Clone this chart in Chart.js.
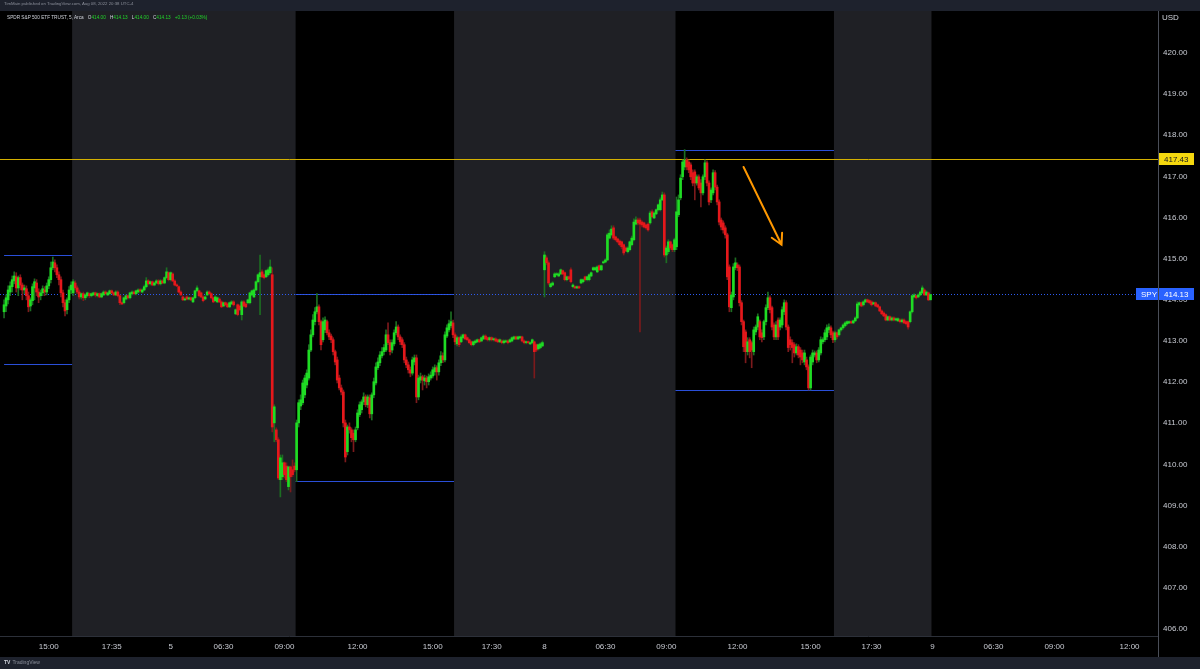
<!DOCTYPE html>
<html>
<head>
<meta charset="utf-8">
<script src="https://cdn.jsdelivr.net/npm/chart.js@4.4.1/dist/chart.umd.min.js"></script>
<style>
  html, body { margin: 0; padding: 0; background: #1e222d; }
  #wrap { position: relative; width: 1200px; height: 669px; overflow: hidden; }
  #chart { position: absolute; left: 0; top: 0; }
  .tiny { position: absolute; white-space: nowrap; font-family: 'Liberation Sans', Arial, sans-serif; font-size: 10px; transform-origin: 0 0; }
  #hdr { left: 4px; top: 1px; color: #8c909b; transform: scale(0.43); }
  #lgd { left: 7px; top: 15px; color: #d1d4dc; transform: scale(0.47); }
  #lgd .k { color: #d1d4dc; margin-left: 6px; }
  #lgd .v { color: #22d32a; }
  #foot { left: 4px; top: 659px; color: #8c909b; transform: scale(0.5); }
  #foot b { color: #d1d4dc; margin-right: 4px; }
</style>
</head>
<body>
<div id="wrap">
  <canvas id="chart" width="1200" height="669"></canvas>
  <div id="hdr" class="tiny">TimMain published on TradingView.com, Aug 08, 2022 20:38 UTC-4</div>
  <div id="lgd" class="tiny">SPDR S&amp;P 500 ETF TRUST, 5, Arca <span class="k">O</span><span class="v">414.00</span> <span class="k">H</span><span class="v">414.13</span> <span class="k">L</span><span class="v">414.00</span> <span class="k">C</span><span class="v">414.13</span> <span class="v" style="margin-left:6px">+0.13 (+0.03%)</span></div>
  <div id="foot" class="tiny"><b>TV</b>TradingView</div>
</div>
<script>
// ===== Data (5 min bars, [open, high, low, close]) =====
const aug4Rth = [
  [413.71,414.00,413.56,413.88],[413.85,414.12,413.71,414.05],[414.00,414.34,413.90,414.24],[414.19,414.44,414.10,414.34],
  [414.32,414.58,414.19,414.49],[414.46,414.68,414.39,414.58],[414.56,414.66,414.19,414.29],[414.29,414.58,414.10,414.54],
  [414.54,414.61,414.24,414.36],[414.36,414.41,414.00,414.24],[414.24,414.36,414.15,414.29],[414.27,414.34,414.00,414.10],
  [414.10,414.19,413.71,413.83],[413.85,414.05,413.73,414.00],[413.98,414.39,413.88,414.32],[414.29,414.51,414.00,414.44],
  [414.41,414.49,414.10,414.19],[414.19,414.27,413.93,414.07],[414.10,414.24,414.00,414.17],[414.17,414.34,414.10,414.27],
  [414.24,414.32,414.10,414.19],[414.19,414.41,414.12,414.34],[414.34,414.56,414.27,414.49],[414.49,414.92,414.41,414.78],
  [414.78,415.04,414.73,414.92],[414.90,414.97,414.68,414.78],[414.78,414.85,414.54,414.61],[414.61,414.68,414.36,414.49],
  [414.49,414.56,414.07,414.17],[414.17,414.24,413.83,413.93],[413.93,414.00,413.61,413.73],[413.76,414.05,413.66,414.00],
  [414.00,414.32,413.93,414.24],[414.24,414.44,414.15,414.36],
];
const aug5Pre = [
  [414.17,414.49,414.10,414.44],[414.41,414.46,414.24,414.29],[414.29,414.34,414.15,414.19],[414.19,414.24,414.02,414.07],
  [414.07,414.17,414.02,414.15],[414.15,414.19,413.98,414.05],[414.05,414.15,414.00,414.12],[414.10,414.19,414.07,414.17],
  [414.15,414.17,414.05,414.10],[414.10,414.17,414.07,414.15],[414.12,414.19,414.10,414.17],[414.17,414.19,414.07,414.12],
  [414.10,414.17,414.07,414.15],[414.15,414.17,414.05,414.07],[414.07,414.17,414.05,414.15],[414.12,414.22,414.10,414.19],
  [414.19,414.22,414.12,414.15],[414.12,414.19,414.10,414.17],[414.15,414.24,414.12,414.22],[414.22,414.24,414.15,414.17],
  [414.17,414.19,414.10,414.12],[414.12,414.22,414.10,414.19],[414.19,414.22,414.07,414.10],[414.10,414.12,413.88,413.93],
  [413.93,413.95,413.88,413.90],[413.93,414.07,413.90,414.05],[414.02,414.12,414.00,414.10],[414.10,414.12,414.02,414.05],
  [414.05,414.19,414.02,414.17],[414.15,414.22,414.12,414.19],[414.19,414.22,414.12,414.15],[414.15,414.24,414.12,414.22],
  [414.19,414.27,414.17,414.24],[414.24,414.27,414.19,414.22],[414.19,414.27,414.17,414.24],[414.24,414.36,414.22,414.32],
  [414.32,414.54,414.29,414.46],[414.46,414.49,414.36,414.39],[414.39,414.46,414.36,414.44],[414.44,414.46,414.34,414.36],
  [414.36,414.44,414.34,414.41],[414.41,414.49,414.39,414.46],[414.46,414.49,414.36,414.39],[414.39,414.49,414.36,414.46],
  [414.46,414.49,414.39,414.41],[414.41,414.56,414.39,414.54],[414.54,414.78,414.51,414.68],[414.66,414.68,414.46,414.49],
  [414.49,414.68,414.46,414.66],[414.63,414.66,414.44,414.46],[414.46,414.49,414.34,414.36],[414.36,414.39,414.32,414.34],
  [414.32,414.34,414.17,414.19],[414.19,414.22,414.10,414.12],[414.07,414.10,413.98,414.00],[414.00,414.05,413.98,414.02],
  [414.07,414.10,414.00,414.02],[414.02,414.07,414.00,414.05],[414.05,414.07,413.98,414.00],[413.95,414.07,413.93,414.05],
  [414.05,414.24,414.02,414.22],[414.22,414.34,414.19,414.29],[414.22,414.24,414.07,414.10],[414.17,414.19,414.05,414.07],
  [414.07,414.10,413.95,413.98],[414.02,414.10,414.00,414.07],[414.12,414.22,414.10,414.19],[414.19,414.22,414.12,414.15],
  [414.15,414.17,414.02,414.05],[414.05,414.07,413.93,413.95],[413.98,414.10,413.95,414.07],[413.95,414.07,413.93,414.05],
  [414.02,414.05,413.93,413.95],[413.95,413.98,413.81,413.83],[413.85,413.95,413.83,413.93],[413.93,413.95,413.85,413.88],
  [413.90,413.93,413.81,413.83],[413.83,413.95,413.81,413.93],[413.90,413.98,413.88,413.95],[413.95,413.98,413.85,413.88],
  [413.66,413.78,413.64,413.76],[413.88,413.90,413.61,413.64],[413.85,413.88,413.73,413.76],[413.64,413.98,413.51,413.95],
  [413.95,413.98,413.83,413.85],[413.90,413.93,413.81,413.83],[413.93,414.02,413.90,414.00],[413.93,414.19,413.90,414.17],
  [414.12,414.24,414.10,414.22],[414.07,414.27,414.05,414.24],[414.24,414.46,414.22,414.44],[414.44,414.63,414.41,414.61],
  [414.56,415.09,413.64,414.66],[414.68,414.73,414.54,414.56],[414.61,414.63,414.51,414.54],[414.56,414.73,414.54,414.71],
  [414.61,414.78,414.58,414.73],[414.66,414.97,414.63,414.80],[414.61,414.78,410.79,410.91],[411.01,411.45,410.55,411.40],
  [410.84,410.89,410.55,410.60],[410.60,410.65,409.63,409.67],[409.63,410.23,409.21,410.16],[409.70,410.23,409.63,410.04],
  [410.04,410.06,409.67,409.75],[409.96,410.04,409.58,409.63],[409.46,409.96,409.38,409.94],[409.94,409.96,409.33,409.70],
  [409.87,410.11,409.70,409.75],[409.96,410.04,409.82,409.87],
];
const aug5Rth = [
  [409.87,411.08,409.58,411.01],[411.01,411.57,410.91,411.50],[411.42,411.69,411.33,411.57],[411.50,412.05,411.45,411.98],
  [411.69,412.17,411.62,412.10],[411.93,412.30,411.86,412.22],[412.10,412.91,412.05,412.78],[412.78,413.27,412.74,413.15],
  [413.15,413.64,413.10,413.51],[413.47,413.81,413.39,413.71],[413.71,414.15,413.66,413.83],[413.83,413.88,413.39,413.47],
  [413.47,413.51,412.78,412.91],[413.03,413.56,412.98,413.47],[413.27,413.59,413.20,413.51],[413.47,413.51,413.15,413.20],
  [413.20,413.27,413.03,413.10],[413.12,413.17,412.96,413.03],[413.03,413.08,412.66,412.74],[412.74,412.78,412.42,412.49],
  [412.54,412.61,411.98,412.05],[412.10,412.17,411.81,411.86],[411.86,411.93,411.69,411.76],[411.76,411.81,410.91,411.01],
  [411.01,411.08,410.06,410.18],[410.31,410.96,410.23,410.91],[410.91,411.01,410.76,410.84],[410.84,410.89,410.55,410.65],
  [410.76,410.84,410.31,410.60],[410.60,410.91,410.55,410.84],[410.89,411.33,410.84,411.25],[411.21,411.52,411.16,411.45],
  [411.33,411.57,411.25,411.52],[411.52,411.74,411.45,411.64],[411.64,411.69,411.40,411.45],[411.45,411.69,411.38,411.64],
  [411.62,411.69,411.13,411.23],[411.23,411.74,411.08,411.69],[411.69,412.10,411.62,412.01],[411.98,412.47,411.93,412.37],
  [412.35,412.59,412.30,412.49],[412.47,412.74,412.40,412.66],[412.64,412.84,412.59,412.74],[412.74,412.91,412.66,412.84],
  [412.78,413.27,412.74,413.15],[413.15,413.44,412.91,412.96],[412.96,413.03,412.66,412.74],[412.78,413.03,412.71,412.96],
  [412.93,413.27,412.88,413.20],[413.20,413.47,413.15,413.34],[413.34,413.39,413.03,413.10],[413.10,413.15,412.91,412.98],
  [413.03,413.08,412.84,412.91],[412.91,412.96,412.47,412.54],[412.54,412.61,412.35,412.42],[412.42,412.49,412.22,412.30],
  [412.30,412.37,412.13,412.22],[412.22,412.61,412.17,412.54],[412.49,412.66,412.42,412.59],[412.59,412.66,411.50,411.64],
  [411.64,412.17,411.57,412.10],[412.05,412.22,411.98,412.13],[412.13,412.17,411.81,412.05],[412.03,412.17,411.93,412.10],
  [412.10,412.15,411.86,412.01],[412.01,412.20,411.93,412.13],[412.10,412.25,412.05,412.17],[412.15,412.37,412.10,412.30],
  [412.25,412.42,412.17,412.35],[412.35,412.40,412.05,412.25],[412.25,412.54,412.17,412.47],[412.47,412.74,412.40,412.64],
  [412.64,412.71,412.47,412.54],[412.54,413.22,412.49,413.15],[413.12,413.39,413.08,413.32],[413.27,413.51,413.22,413.42],
  [413.37,413.71,413.32,413.47],[413.44,413.51,413.08,413.15],
];
const aug8Pre = [
  [413.15,413.20,412.91,412.98],[412.93,413.12,412.88,413.08],[413.08,413.10,412.86,412.91],[412.98,413.15,412.96,413.10],
  [413.08,413.17,413.05,413.15],[413.15,413.17,413.03,413.05],[413.08,413.10,413.00,413.03],[413.03,413.05,412.93,412.96],
  [412.98,413.00,412.88,412.91],[412.91,413.00,412.88,412.98],[412.96,413.03,412.93,413.00],[412.98,413.05,412.96,413.03],
  [413.03,413.05,412.96,412.98],[413.00,413.10,412.98,413.08],[413.05,413.15,413.03,413.12],[413.12,413.15,413.03,413.05],
  [413.08,413.10,413.00,413.03],[413.03,413.10,413.00,413.08],[413.08,413.10,413.00,413.03],[413.03,413.08,413.00,413.05],
  [413.05,413.08,412.98,413.00],[413.03,413.05,412.96,412.98],[412.98,413.05,412.96,413.03],[413.00,413.03,412.93,412.96],
  [412.96,413.03,412.93,413.00],[412.98,413.03,412.96,413.00],[413.00,413.03,412.93,412.96],[412.98,413.05,412.96,413.03],
  [413.00,413.10,412.98,413.08],[413.05,413.12,413.03,413.10],[413.10,413.12,413.03,413.05],[413.05,413.12,413.03,413.10],
  [413.08,413.12,413.05,413.10],[413.10,413.12,412.98,413.00],[413.00,413.03,412.93,412.96],[412.96,413.00,412.93,412.98],
  [412.98,413.00,412.93,412.96],[412.93,412.98,412.91,412.96],[412.96,413.05,412.93,413.03],[412.98,413.00,412.10,412.74],
  [412.91,412.93,412.74,412.78],[412.81,412.93,412.78,412.91],[412.84,412.96,412.81,412.93],[412.88,413.00,412.86,412.96],
  [414.73,415.17,414.07,415.09],[415.02,415.07,414.85,414.90],[414.90,414.95,414.36,414.41],[414.32,414.41,414.29,414.39],
  [414.36,414.44,414.34,414.41],[414.56,414.66,414.54,414.63],[414.61,414.66,414.58,414.63],[414.58,414.66,414.56,414.63],
  [414.63,414.75,414.61,414.73],[414.71,414.73,414.61,414.63],[414.66,414.68,414.46,414.49],[414.49,414.58,414.46,414.56],
  [414.56,414.58,414.49,414.51],[414.73,414.78,414.41,414.44],[414.32,414.39,414.29,414.36],[414.32,414.34,414.27,414.29],
  [414.29,414.34,414.27,414.32],[414.32,414.34,414.27,414.29],[414.41,414.51,414.39,414.49],[414.44,414.51,414.41,414.49],
  [414.56,414.58,414.46,414.49],[414.49,414.58,414.46,414.56],[414.49,414.63,414.46,414.61],[414.58,414.68,414.56,414.66],
  [414.73,414.80,414.71,414.78],[414.73,414.80,414.71,414.78],[414.68,414.83,414.66,414.80],[414.83,414.85,414.71,414.73],
  [414.73,414.85,414.71,414.83],[414.90,414.95,414.88,414.92],[414.92,415.00,414.90,414.97],[414.97,415.62,414.95,415.58],
  [415.50,415.70,415.48,415.62],[415.58,415.80,415.55,415.72],[415.75,415.80,415.46,415.50],[415.53,415.55,415.43,415.46],
  [415.48,415.50,415.38,415.41],[415.43,415.46,415.31,415.34],[415.41,415.43,415.24,415.29],[415.34,415.36,415.09,415.14],
  [415.26,415.29,415.17,415.19],[415.17,415.29,415.14,415.26],[415.22,415.43,415.19,415.41],[415.34,415.55,415.31,415.50],
  [415.46,415.97,415.43,415.89],[415.84,416.02,415.82,415.94],[415.94,415.99,415.82,415.87],[415.94,415.99,413.22,415.84],
  [415.89,415.92,415.77,415.82],[415.87,415.89,415.75,415.77],[415.82,415.84,415.72,415.75],[415.84,415.87,415.67,415.70],
  [415.87,416.16,415.84,416.11],[416.14,416.19,415.99,416.02],[415.99,416.14,415.97,416.11],[416.09,416.21,416.07,416.19],
  [416.19,416.33,416.16,416.31],[416.19,416.48,416.16,416.43],[416.43,416.62,416.41,416.55],[416.55,416.60,415.04,415.09],
  [415.09,415.31,414.90,415.26],[415.17,415.46,415.12,415.41],[415.41,415.43,415.22,415.26],[415.34,415.36,415.17,415.22],
  [415.22,415.50,415.17,415.46],
];
const aug8Rth = [
  [415.29,416.50,415.22,416.14],[416.07,416.55,416.02,416.43],[416.48,417.04,416.43,416.96],[416.99,417.40,416.92,417.35],
  [417.23,417.65,417.16,417.40],[417.40,417.45,417.16,417.23],[417.35,417.40,417.09,417.16],[417.28,417.33,416.92,416.99],
  [417.09,417.16,416.77,416.84],[417.11,417.16,416.43,416.84],[416.84,417.04,416.79,416.99],[416.99,417.04,416.67,416.72],
  [416.84,416.92,416.26,416.60],[416.60,417.04,416.55,416.99],[416.99,417.40,416.92,417.33],[417.33,417.38,416.77,416.84],
  [416.84,416.89,416.31,416.38],[416.43,416.72,416.36,416.67],[416.60,417.16,416.55,417.09],[417.09,417.14,416.67,416.74],
  [416.74,416.79,416.31,416.38],[416.38,416.43,415.82,415.89],[415.94,415.99,415.70,415.77],[415.87,415.92,415.62,415.70],
  [415.75,415.80,415.50,415.58],[415.58,415.62,414.49,414.56],[414.80,414.85,413.71,413.83],[413.81,414.19,413.71,414.12],
  [414.07,414.88,414.00,414.80],[414.78,415.02,414.73,414.90],[414.85,414.90,414.71,414.78],[414.80,414.85,413.85,413.93],
  [413.93,413.98,413.39,413.47],[413.47,413.51,412.74,412.86],[413.22,413.27,412.47,412.74],[412.74,413.08,412.66,412.98],
  [413.03,413.08,412.59,412.74],[412.96,413.00,412.35,412.78],[412.74,413.34,412.66,413.27],[413.22,413.39,413.15,413.34],
  [413.34,413.66,413.27,413.59],[413.47,413.51,413.03,413.10],[413.20,413.27,412.98,413.08],[413.10,413.51,413.03,413.47],
  [413.47,413.88,413.39,413.81],[413.81,414.19,413.76,414.05],[414.05,414.10,413.68,413.76],[413.81,413.85,413.27,413.34],
  [413.39,413.44,413.03,413.10],[413.10,413.47,413.03,413.39],[413.51,413.56,413.03,413.10],[413.34,413.56,413.27,413.51],
  [413.39,413.83,413.32,413.76],[413.71,414.00,413.64,413.93],[413.93,413.98,413.27,413.34],[413.34,413.39,412.74,412.84],
  [413.03,413.10,412.78,412.91],[412.96,413.03,412.47,412.84],[412.91,412.96,412.61,412.71],[412.71,412.93,412.66,412.86],
  [412.86,412.91,412.59,412.66],[412.78,412.84,412.42,412.61],[412.71,412.78,412.47,412.54],[412.49,412.78,412.42,412.71],
  [412.54,412.61,412.30,412.37],[412.37,412.42,411.81,411.86],[411.86,412.66,411.81,412.61],[412.49,412.78,412.42,412.71],
  [412.66,412.76,412.61,412.71],[412.71,412.76,412.47,412.54],[412.54,412.84,412.49,412.78],[412.71,413.10,412.66,413.03],
  [412.98,413.08,412.93,413.03],[413.03,413.27,412.98,413.20],[413.10,413.39,413.03,413.32],[413.27,413.42,413.20,413.34],
  [413.32,413.37,413.08,413.15],[413.20,413.24,412.96,413.03],
];
const aug8Post = [
  [413.03,413.24,412.98,413.20],[413.20,413.22,413.05,413.10],[413.15,413.29,413.12,413.27],[413.27,413.34,413.24,413.32],
  [413.32,413.42,413.29,413.39],[413.37,413.47,413.34,413.44],[413.42,413.49,413.39,413.47],[413.44,413.49,413.42,413.47],
  [413.47,413.49,413.42,413.44],[413.44,413.51,413.42,413.49],[413.49,413.59,413.47,413.56],[413.56,413.95,413.54,413.90],
  [413.88,413.95,413.85,413.93],[413.93,413.95,413.83,413.85],[413.88,413.98,413.85,413.95],[413.95,414.02,413.93,414.00],
  [414.00,414.02,413.93,413.95],[413.98,414.00,413.90,413.93],[413.95,413.98,413.85,413.88],[413.90,413.95,413.88,413.93],
  [413.93,413.95,413.83,413.85],[413.88,413.90,413.81,413.83],[413.83,413.85,413.71,413.73],[413.73,413.76,413.64,413.66],
  [413.68,413.71,413.59,413.61],[413.64,413.66,413.49,413.51],[413.51,413.61,413.49,413.59],[413.59,413.61,413.49,413.51],
  [413.51,413.59,413.49,413.56],[413.56,413.59,413.49,413.51],[413.51,413.56,413.49,413.54],[413.49,413.56,413.47,413.54],
  [413.51,413.54,413.44,413.47],[413.47,413.54,413.44,413.51],[413.51,413.54,413.42,413.44],[413.47,413.49,413.39,413.42],
  [413.47,413.49,413.29,413.34],[413.47,413.73,413.44,413.71],[413.71,414.12,413.68,414.10],[414.07,414.15,414.05,414.12],
  [414.10,414.12,414.02,414.05],[414.07,414.15,414.05,414.12],[414.12,414.22,414.10,414.19],[414.17,414.34,414.15,414.29],
  [414.24,414.27,414.10,414.12],[414.12,414.22,414.10,414.19],[414.17,414.19,413.98,414.00],[414.00,414.13,414.00,414.13],
];

// extended-hours sessions (bar index ranges); everything else is regular session
const extFrom = [33.5, 221.5, 408.5];
const extTo = [143.5, 330.5, 456.5];

// regular session high / low lines
const rangeFrom = [0, 143.5, 330.5];
const rangeTo = [33.5, 221.5, 408.5];
const rangeHigh = [415.09, 414.14, 417.63];
const rangeLow = [412.44, 409.60, 411.82];

const levelPrice = 417.43;
const lastPrice = 414.13;
const arrowFrom = [364, 417.23];
const arrowTo = [382.7, 415.34];

const priceTicks = [406, 407, 408, 409, 410, 411, 412, 413, 414, 415, 416, 417, 418, 419, 420];
const timeTickIdx = [22, 53, 82, 108, 138, 174, 211, 240, 266, 296, 326, 361, 397, 427, 457, 487, 517, 554];
const timeTickLbl = ['15:00', '17:35', '5', '06:30', '09:00', '12:00', '15:00', '17:30', '8', '06:30', '09:00', '12:00', '15:00', '17:30', '9', '06:30', '09:00', '12:00'];

// ===== Build datasets =====
const candles = [...aug4Rth, ...aug5Pre, ...aug5Rth, ...aug8Pre, ...aug8Rth, ...aug8Post];
const UP = '#1fdc24', DOWN = '#e5181b', UP_WICK = '#1c6e22', DOWN_WICK = '#7c1a1c';
const bodies = candles.map((c, i) => ({ x: i, y: [Math.min(c[0], c[3]), Math.max(c[0], c[3])] }));
const wicks = candles.map((c, i) => ({ x: i, y: [c[2], c[1]] }));
const bodyColors = candles.map(c => (c[3] >= c[0] ? UP : DOWN));
const wickColors = candles.map(c => (c[3] >= c[0] ? UP_WICK : DOWN_WICK));

const FONT = "'Liberation Sans', Arial, sans-serif";

// ===== Drawing plugin =====
const tvChrome = {
  id: 'tvChrome',
  beforeDraw(chart) {
    const { ctx, width, height } = chart;
    ctx.save();
    ctx.fillStyle = '#1e222d';
    ctx.fillRect(0, 0, width, height);
    ctx.fillStyle = '#000';
    ctx.fillRect(0, 11, width, 646);
    ctx.restore();
  },
  beforeDatasetsDraw(chart) {
    const { ctx, chartArea: a, scales: { x, y } } = chart;
    ctx.save();
    // extended hours shading
    ctx.fillStyle = '#1f2025';
    extFrom.forEach((f, k) => {
      const x0 = x.getPixelForValue(f), x1 = x.getPixelForValue(extTo[k]);
      ctx.fillRect(x0, a.top, x1 - x0, a.height);
    });
    // session high / low
    ctx.strokeStyle = '#2a4fd8';
    ctx.lineWidth = 1;
    rangeFrom.forEach((f, k) => {
      const x0 = x.getPixelForValue(f), x1 = x.getPixelForValue(rangeTo[k]);
      [rangeHigh[k], rangeLow[k]].forEach(p => {
        const py = Math.round(y.getPixelForValue(p)) + 0.5;
        ctx.beginPath(); ctx.moveTo(x0, py); ctx.lineTo(x1, py); ctx.stroke();
      });
    });
    // current price dotted line
    const pl = Math.round(y.getPixelForValue(lastPrice)) + 0.5;
    ctx.strokeStyle = '#2e5bf0';
    ctx.setLineDash([1, 2]);
    ctx.beginPath(); ctx.moveTo(a.left, pl); ctx.lineTo(a.right, pl); ctx.stroke();
    ctx.setLineDash([]);
    // horizontal level
    const ly = Math.round(y.getPixelForValue(levelPrice)) + 0.5;
    ctx.strokeStyle = '#d4b000';
    ctx.beginPath(); ctx.moveTo(a.left, ly); ctx.lineTo(a.right, ly); ctx.stroke();
    ctx.restore();
  },
  afterDatasetsDraw(chart) {
    const { ctx, scales: { x, y } } = chart;
    const x0 = x.getPixelForValue(arrowFrom[0]), y0 = y.getPixelForValue(arrowFrom[1]);
    const x1 = x.getPixelForValue(arrowTo[0]), y1 = y.getPixelForValue(arrowTo[1]);
    const ang = Math.atan2(y1 - y0, x1 - x0);
    ctx.save();
    ctx.strokeStyle = '#ff9800';
    ctx.lineWidth = 2;
    ctx.lineCap = 'round';
    ctx.beginPath();
    ctx.moveTo(x0, y0); ctx.lineTo(x1, y1);
    ctx.moveTo(x1 - 12 * Math.cos(ang - 0.5), y1 - 12 * Math.sin(ang - 0.5));
    ctx.lineTo(x1, y1);
    ctx.lineTo(x1 - 12 * Math.cos(ang + 0.5), y1 - 12 * Math.sin(ang + 0.5));
    ctx.stroke();
    ctx.restore();
  },
  afterDraw(chart) {
    const { ctx, chartArea: a, scales: { y } } = chart;
    ctx.save();
    // axis borders
    ctx.strokeStyle = '#4a4e58';
    ctx.lineWidth = 1;
    ctx.beginPath(); ctx.moveTo(a.right + 0.5, 11); ctx.lineTo(a.right + 0.5, 657); ctx.stroke();
    ctx.strokeStyle = '#2c3039';
    ctx.beginPath(); ctx.moveTo(0, a.bottom + 0.5); ctx.lineTo(a.right, a.bottom + 0.5); ctx.stroke();

    ctx.font = `8px ${FONT}`;
    ctx.textBaseline = 'middle';
    ctx.fillStyle = '#d1d4dc';
    ctx.fillText('USD', a.right + 4, 18);

    const box = (x0, w, price, bg, fg, txt) => {
      const py = Math.round(y.getPixelForValue(price));
      ctx.fillStyle = bg;
      ctx.fillRect(x0, py - 6, w, 12);
      ctx.fillStyle = fg;
      ctx.fillText(txt, x0 + 5, py + 0.5);
    };
    box(a.right + 1, 35, levelPrice, '#f5d80f', '#131722', levelPrice.toFixed(2));
    box(a.right - 22, 22, lastPrice, '#2962ff', '#ffffff', 'SPY');
    box(a.right + 1, 35, lastPrice, '#2962ff', '#ffffff', lastPrice.toFixed(2));
    ctx.restore();
  },
};

// ===== Chart =====
new Chart(document.getElementById('chart').getContext('2d'), {
  type: 'bar',
  data: {
    datasets: [
      { data: bodies, backgroundColor: bodyColors, barThickness: 2, minBarLength: 1, grouped: false, borderWidth: 0 },
      { data: wicks, backgroundColor: wickColors, barThickness: 1, minBarLength: 1, grouped: false, borderWidth: 0 },
    ],
  },
  options: {
    responsive: false,
    devicePixelRatio: 1,
    animation: false,
    events: [],
    layout: { padding: { top: 11, bottom: 12, left: 0, right: 0 } },
    plugins: { legend: { display: false }, tooltip: { enabled: false } },
    scales: {
      x: {
        type: 'linear',
        min: -2, max: 568,
        offset: false,
        grid: { display: false, drawTicks: false },
        border: { display: false },
        afterFit: s => { s.height = 21; },
        afterBuildTicks: s => { s.ticks = timeTickIdx.map(v => ({ value: v })); },
        ticks: {
          autoSkip: false, maxRotation: 0, padding: 6,
          color: '#c8cbd3', font: { family: FONT, size: 8 },
          callback: (v) => timeTickLbl[timeTickIdx.indexOf(v)],
        },
      },
      y: {
        position: 'right',
        min: 405.83, max: 421.02,
        grid: { display: false, drawTicks: false },
        border: { display: false },
        afterFit: s => { s.width = 42; },
        afterBuildTicks: s => { s.ticks = priceTicks.map(v => ({ value: v })); },
        ticks: {
          padding: 5,
          color: '#c8cbd3', font: { family: FONT, size: 8 },
          callback: v => v.toFixed(2),
        },
      },
    },
  },
  plugins: [tvChrome],
});
</script>
</body>
</html>
